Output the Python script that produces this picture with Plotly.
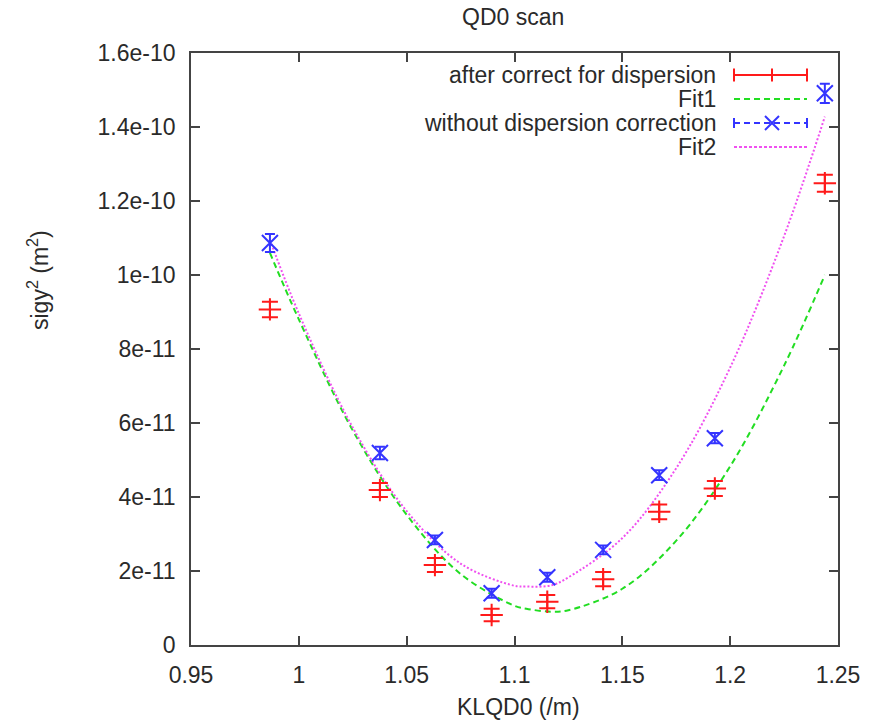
import plotly.graph_objects as go

# ---- measurements: quadrupole strength scan ----
klqd0 = [0.9866, 1.0376, 1.0631, 1.0894, 1.1152, 1.1411, 1.1671, 1.1929, 1.2439]

# sigma_y^2 after dispersion correction (m^2) and its error
sig2_corr = [9.07e-11, 4.19e-11, 2.16e-11, 8.1e-12, 1.17e-11, 1.78e-11, 3.60e-11, 4.23e-11, 1.248e-10]
sig2_corr_err = [2.1e-12, 1.9e-12, 1.9e-12, 1.7e-12, 1.8e-12, 1.9e-12, 2.0e-12, 2.0e-12, 2.3e-12]

# sigma_y^2 without dispersion correction (m^2) and its error
sig2_raw = [1.0865e-10, 5.19e-11, 2.84e-11, 1.40e-11, 1.83e-11, 2.57e-11, 4.59e-11, 5.59e-11, 1.491e-10]
sig2_raw_err = [2.4e-12, 1.7e-12, 1.2e-12, 1.2e-12, 1.2e-12, 1.2e-12, 1.3e-12, 1.4e-12, 2.6e-12]

# fitted curves, sampled along the scan range
fit_k = [0.9866, 1.00, 1.025, 1.05, 1.075, 1.10, 1.1055, 1.117, 1.125, 1.15, 1.175, 1.20, 1.225, 1.2439]
fit1 = [1.06e-10, 8.8e-11, 5.8e-11, 3.52e-11, 1.92e-11, 1.06e-11, 9.8e-12, 9.0e-12, 9.4e-12,
        1.52e-11, 2.82e-11, 4.83e-11, 7.55e-11, 1.0e-10]
fit2 = [1.095e-10, 8.96e-11, 5.88e-11, 3.62e-11, 2.2e-11, 1.6e-11, 1.58e-11, 1.61e-11, 1.83e-11,
        2.89e-11, 4.78e-11, 7.5e-11, 1.105e-10, 1.428e-10]

# axis ticks
x_ticks = [0.95, 1.0, 1.05, 1.1, 1.15, 1.2, 1.25]
x_tick_text = ["0.95", "1", "1.05", "1.1", "1.15", "1.2", "1.25"]
y_ticks = [0, 2e-11, 4e-11, 6e-11, 8e-11, 1e-10, 1.2e-10, 1.4e-10, 1.6e-10]
y_tick_text = ["0", "2e-11", "4e-11", "6e-11", "8e-11", "1e-10", "1.2e-10", "1.4e-10", "1.6e-10"]

legend_labels = ["after correct for dispersion", "Fit1", "without dispersion correction", "Fit2"]

RED = "#ff1a1a"
GREEN = "#22dd22"
BLUE = "#3434ff"
MAGENTA = "#f050f0"
FONT = "Liberation Sans, Arial, sans-serif"
TEXT = "#2a2a2a"

W, H = 875, 721
L, R, T, B = 191, 37, 53, 76
PW, PH = W - L - R, H - T - B


def px(x):
    return (x - L) / PW


def py(y):
    return (H - B - y) / PH


fig = go.Figure()

fig.add_trace(go.Scatter(
    x=fit_k, y=fit1, mode="lines", line=dict(color=GREEN, width=2, dash="6px,4px", shape="spline"),
    showlegend=False, hoverinfo="skip"))
fig.add_trace(go.Scatter(
    x=fit_k, y=fit2, mode="lines", line=dict(color=MAGENTA, width=2, dash="2px,2px", shape="spline"),
    showlegend=False, hoverinfo="skip"))

fig.add_trace(go.Scatter(
    x=klqd0, y=sig2_corr, mode="markers",
    marker=dict(symbol="cross-thin", size=16, line=dict(color=RED, width=2)),
    error_y=dict(type="data", array=sig2_corr_err, color=RED, thickness=2, width=8),
    showlegend=False))
fig.add_trace(go.Scatter(
    x=klqd0, y=sig2_raw, mode="markers",
    marker=dict(symbol="x-thin", size=16, line=dict(color=BLUE, width=2)),
    error_y=dict(type="data", array=sig2_raw_err, color=BLUE, thickness=2, width=5),
    showlegend=False))

# gnuplot-style key: right-aligned labels with samples on the right
shapes = []
annotations = []
rows_y = [75, 99, 123, 147]
x0s, x1s, xmid = 734, 807, 772
for label, ry in zip(legend_labels, rows_y):
    annotations.append(dict(
        x=px(718), y=py(ry), xref="paper", yref="paper", text=label, showarrow=False,
        xanchor="right", yanchor="middle", font=dict(family=FONT, size=23, color=TEXT)))


def seg(xa, ya, xb, yb, color, dash="solid", width=2):
    shapes.append(dict(type="line", xref="paper", yref="paper",
                       x0=px(xa), y0=py(ya), x1=px(xb), y1=py(yb),
                       line=dict(color=color, width=width, dash=dash)))


# red: error bar sample
ry = rows_y[0]
seg(x0s, ry, x1s, ry, RED)
for xx in (x0s, x1s, xmid):
    seg(xx, ry - 6.5, xx, ry + 6.5, RED)
# green dashed
seg(x0s, rows_y[1], x1s, rows_y[1], GREEN, dash="6px,4px")
# blue dashed with caps and cross
ry = rows_y[2]
seg(x0s, ry, x1s, ry, BLUE, dash="6px,4px")
for xx in (x0s, x1s):
    seg(xx, ry - 5, xx, ry + 5, BLUE)
seg(xmid - 7, ry - 7, xmid + 7, ry + 7, BLUE)
seg(xmid - 7, ry + 7, xmid + 7, ry - 7, BLUE)
# magenta dotted
seg(x0s, rows_y[3], x1s, rows_y[3], MAGENTA, dash="3px,2px")

annotations += [
    dict(x=px(513), y=py(17), xref="paper", yref="paper", text="QD0 scan", showarrow=False,
         xanchor="center", yanchor="middle", font=dict(family=FONT, size=23, color=TEXT)),
    dict(x=px(518), y=py(707), xref="paper", yref="paper", text="KLQD0 (/m)", showarrow=False,
         xanchor="center", yanchor="middle", font=dict(family=FONT, size=23, color=TEXT)),
    dict(x=px(38), y=py(280), xref="paper", yref="paper", text="sigy<sup>2</sup> (m<sup>2</sup>)",
         showarrow=False, textangle=-90, xanchor="center", yanchor="middle",
         font=dict(family=FONT, size=23, color=TEXT)),
]

axis_common = dict(
    showgrid=False, zeroline=False, showline=True, mirror="ticks", linecolor="#444444",
    linewidth=1.6, ticks="inside", ticklen=9, tickwidth=1.6, tickcolor="#444444",
    tickfont=dict(family=FONT, size=23, color=TEXT), ticklabelstandoff=9,
)

fig.update_layout(
    width=W, height=H, autosize=False,
    margin=dict(l=L, r=R, t=T, b=B),
    paper_bgcolor="white", plot_bgcolor="white",
    xaxis=dict(range=[0.95, 1.25], tickvals=x_ticks, ticktext=x_tick_text, **axis_common),
    yaxis=dict(range=[0, 1.6e-10], tickvals=y_ticks, ticktext=y_tick_text, **axis_common),
    shapes=shapes, annotations=annotations, showlegend=False,
)

fig.write_html("out.html")
